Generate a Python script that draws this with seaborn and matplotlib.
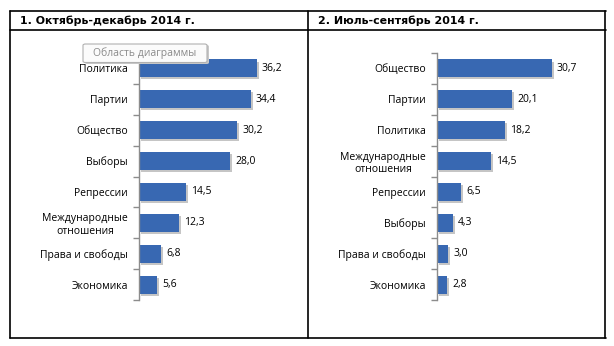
import matplotlib
matplotlib.use("Agg")
import matplotlib.pyplot as plt
import matplotlib.patheffects as pe
from matplotlib.lines import Line2D
from matplotlib.patches import FancyBboxPatch
import seaborn as sns
import pandas as pd

# ---- data ----
title_left = "1. Октябрь-декабрь 2014 г."
cats_left = ["Политика", "Партии", "Общество", "Выборы", "Репрессии",
             "Международные\nотношения", "Права и свободы", "Экономика"]
vals_left = [36.2, 34.4, 30.2, 28.0, 14.5, 12.3, 6.8, 5.6]

title_right = "2. Июль-сентябрь 2014 г."
cats_right = ["Общество", "Партии", "Политика", "Международные\nотношения",
              "Репрессии", "Выборы", "Права и свободы", "Экономика"]
vals_right = [30.7, 20.1, 18.2, 14.5, 6.5, 4.3, 3.0, 2.8]

tooltip_text = "Область диаграммы"

sns.set_style("white")
plt.rcParams["font.family"] = ["Open Sans", "DejaVu Sans"]

W, H = 614, 346
fig = plt.figure(figsize=(W / 100, H / 100), dpi=100)
fig.patch.set_facecolor("white")

def fx(x):
    return x / W

def fy(y):
    return 1 - y / H

BAR = "#3868B2"

def panel(left_px, width_px, xmax, cats, vals):
    ax = fig.add_axes([fx(left_px), fy(300), fx(width_px), (300 - 53) / H])
    df = pd.DataFrame({"cat": cats, "val": vals})
    sns.barplot(data=df, x="val", y="cat", orient="h", color=BAR,
                saturation=1, width=0.58, linewidth=0, ax=ax)
    for p in ax.patches:
        p.set_linewidth(0)
        p.set_path_effects([pe.SimplePatchShadow(offset=(1.2, -1.5), alpha=0.3,
                                                 shadow_rgbFace="#404040"),
                            pe.Normal()])
    ax.set_xlim(0, xmax)
    ax.set_ylim(len(cats) - 0.5, -0.5)
    ax.set_xlabel("")
    ax.set_ylabel("")
    ax.set_xticks([])
    for s in ["top", "right", "bottom"]:
        ax.spines[s].set_visible(False)
    ax.spines["left"].set_color("#8c8c8c")
    ax.spines["left"].set_linewidth(1.0)
    ax.tick_params(axis="y", which="major", left=False, length=0, pad=8,
                   labelsize=7.5, labelcolor="#000000")
    ax.set_yticks([i - 0.5 for i in range(len(cats) + 1)], minor=True)
    ax.tick_params(axis="y", which="minor", left=True, length=4, width=1.0,
                   color="#8c8c8c", direction="out")
    for t in ax.get_yticklabels():
        t.set_multialignment("center")
    ax.bar_label(ax.containers[0], labels=[f"{v:.1f}".replace(".", ",") for v in vals],
                 padding=3.5, fontsize=7.5, color="#000000")
    ax.patch.set_alpha(0)
    return ax

axL = panel(139, 161, 49.4, cats_left, vals_left)
axR = panel(437, 163, 43.5, cats_right, vals_right)

# ---- table borders ----
lw = 1.2
def hline(y, x0, x1):
    fig.add_artist(Line2D([fx(x0), fx(x1)], [fy(y), fy(y)], color="black", lw=lw))

def vline(x, y0, y1):
    fig.add_artist(Line2D([fx(x), fx(x)], [fy(y0), fy(y1)], color="black", lw=lw))

hline(11, 9.5, 605.5)
hline(29.5, 9.5, 605.5)
hline(337.5, 9.5, 605.5)
vline(10, 11, 337.5)
vline(307.5, 11, 337.5)
vline(605, 11, 337.5)

fig.text(fx(20), fy(20.5), title_left, fontsize=7.9, fontweight="bold",
         family="DejaVu Sans", va="center", ha="left", color="#000000")
fig.text(fx(318), fy(20.5), title_right, fontsize=7.9, fontweight="bold",
         family="DejaVu Sans", va="center", ha="left", color="#000000")

# ---- tooltip artifact ----
shadow = FancyBboxPatch((fx(85), fy(64)), fx(124), (63 - 44) / H,
                        boxstyle="round,pad=0,rounding_size=0.004",
                        transform=fig.transFigure, facecolor="#c8c8c8",
                        edgecolor="none", zorder=9)
fig.add_artist(shadow)
box = FancyBboxPatch((fx(83), fy(62.5)), fx(124), (62.5 - 44) / H,
                     boxstyle="round,pad=0,rounding_size=0.004",
                     transform=fig.transFigure, facecolor="#fbfbfb",
                     edgecolor="#b0b0b0", lw=0.8, zorder=10)
fig.add_artist(box)
fig.text(fx(145), fy(53.5), tooltip_text, fontsize=7.5, color="#8a8a8a",
         ha="center", va="center", zorder=11)

fig.savefig("out.png", dpi=100, facecolor="white")
